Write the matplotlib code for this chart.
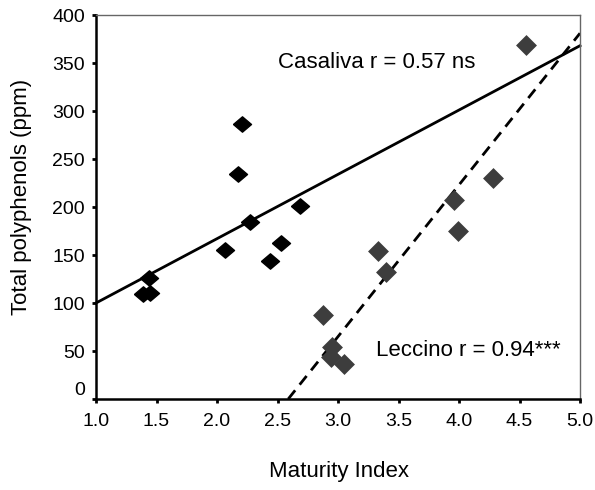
import numpy as np
import matplotlib
matplotlib.use("Agg")
import matplotlib.pyplot as plt
from matplotlib.ticker import FormatStrFormatter

plt.rcParams["font.family"] = ["Liberation Sans", "DejaVu Sans"]

# Casaliva samples: maturity index vs total polyphenols (ppm)
casaliva_mi = [1.39, 1.45, 1.44, 2.07, 2.17, 2.21, 2.27, 2.44, 2.53, 2.69]
casaliva_tp = [109, 110, 126, 155, 234, 286, 184, 144, 163, 201]

# Leccino samples
leccino_mi = [2.88, 2.95, 2.94, 3.05, 3.33, 3.40, 3.96, 3.99, 4.28, 4.55]
leccino_tp = [88, 54, 44, 36, 154, 132, 207, 175, 230, 369]

# regression lines (slope, intercept) as drawn in the figure
casaliva_fit = (67.0, 33.0)
leccino_fit = (158.0, -409.0)

casaliva_label = "Casaliva r = 0.57 ns"
leccino_label = "Leccino r = 0.94***"

fig = plt.figure(figsize=(5.95, 4.9), dpi=100)
ax = fig.add_axes([96 / 595, 1 - 399 / 490, (580 - 96) / 595, (399 - 15) / 490])

# fitted lines
xs = np.array([1.0, 5.0])
ax.plot(xs, casaliva_fit[0] * xs + casaliva_fit[1], color="black", lw=2.0,
        zorder=2, clip_on=False)
x0 = -leccino_fit[1] / leccino_fit[0]
xl = np.array([x0, 5.0])
ax.plot(xl, leccino_fit[0] * xl + leccino_fit[1], color="black", lw=2.0,
        ls=(0, (4, 2.6)), zorder=2)

# data points
flat_diamond = [(-1, 0), (0, 0.85), (1, 0), (0, -0.85), (-1, 0)]
ax.plot(casaliva_mi, casaliva_tp, ls="none", marker=flat_diamond, ms=13,
        color="black", zorder=3)
ax.plot(leccino_mi, leccino_tp, ls="none", marker="D", ms=8.5,
        mfc="#3d3d3d", mec="#3d3d3d", mew=2.5, zorder=3)

ax.text(2.50, 350, casaliva_label, fontsize=16, ha="left", va="center")
ax.text(3.31, 50, leccino_label, fontsize=16, ha="left", va="center")

ax.set_xlim(1.0, 5.0)
ax.set_ylim(0, 400)
ax.set_xticks(np.arange(1.0, 5.01, 0.5))
ax.set_yticks(np.arange(0, 401, 50))
ax.xaxis.set_major_formatter(FormatStrFormatter("%.1f"))
ax.tick_params(labelsize=14, length=3, width=2, direction="out")
ax.tick_params(axis="x", pad=7)
ax.tick_params(axis="y", pad=5)
ax.get_yticklabels()[0].set_verticalalignment("bottom")

for s in ("left", "bottom"):
    ax.spines[s].set_linewidth(1.8)
    ax.spines[s].set_color("black")
for s in ("top", "right"):
    ax.spines[s].set_linewidth(1.0)
    ax.spines[s].set_color("#666666")

ax.set_xlabel("Maturity Index", fontsize=16)
ax.xaxis.set_label_coords(0.503, -0.19)
ax.xaxis.label.set_verticalalignment("center")
ax.set_ylabel("Total polyphenols (ppm)", fontsize=16)
ax.yaxis.set_label_coords(-0.153, 0.525)
ax.yaxis.label.set_verticalalignment("center")

fig.savefig("out.png", dpi=100)
